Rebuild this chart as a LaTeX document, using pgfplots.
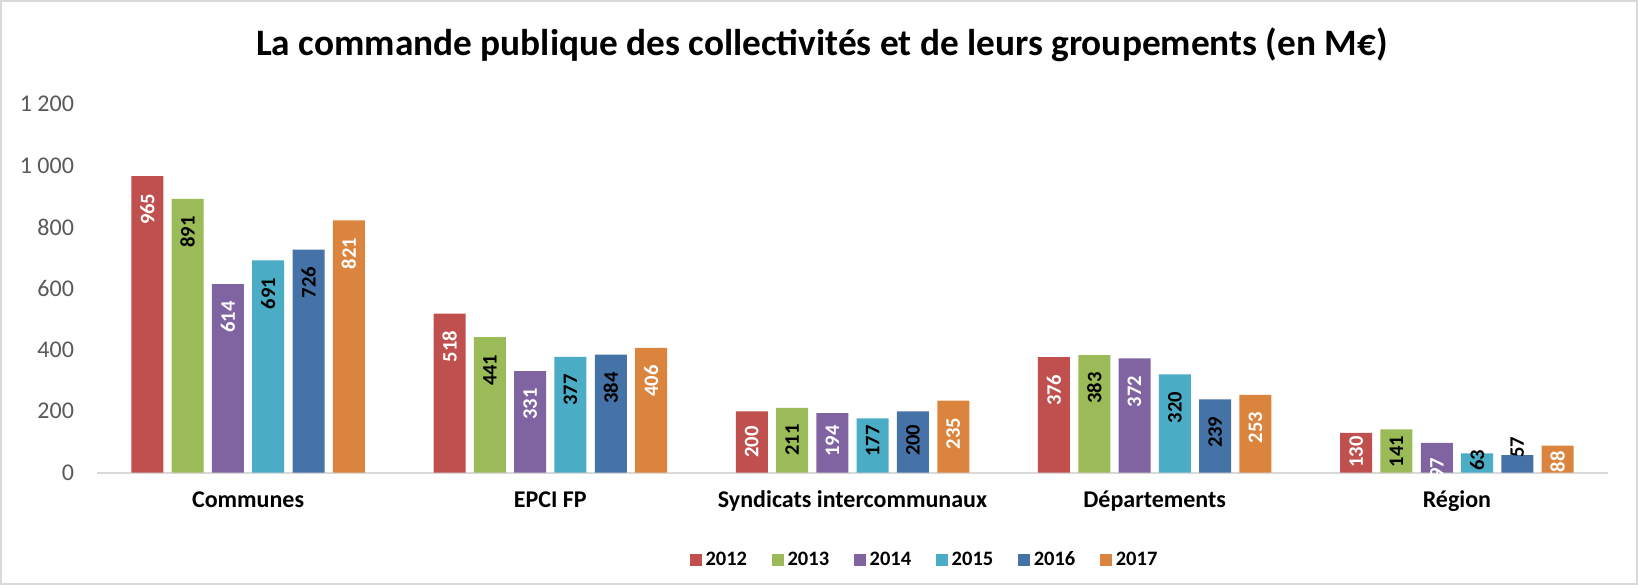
\documentclass[border=0pt]{standalone}
\usepackage{pgfplots}
\pgfplotsset{compat=1.18}
\usepackage{pgfplotstable}
\usepackage{fontspec}
\setmainfont{Carlito}
\definecolor{c2012}{HTML}{C0504D}
\definecolor{c2013}{HTML}{9BBB59}
\definecolor{c2014}{HTML}{8064A2}
\definecolor{c2015}{HTML}{4BACC6}
\definecolor{c2016}{HTML}{4572A7}
\definecolor{c2017}{HTML}{DB843D}
\definecolor{tickgray}{HTML}{595959}
\definecolor{framegray}{HTML}{D9D9D9}

\pgfplotstableread{
x y sh
0 965 -8.5
1 518 -8.5
2 200 -7.35
3 376 -8.5
4 130 -1.65
}\tA
\pgfplotstableread{
x y sh
0 891 -8.5
1 441 -8.5
2 211 -8
3 383 -8.5
4 141 -3
}\tB
\pgfplotstableread{
x y sh
0 614 -8.5
1 331 -8.5
2 194 -6
3 372 -8.5
4 97 -7.15
}\tC
\pgfplotstableread{
x y sh
0 691 -8.5
1 377 -8.5
2 177 -3.35
3 320 -8.5
4 63 1.85
}\tD
\pgfplotstableread{
x y sh
0 726 -8.5
1 384 -8.5
2 200 -6.5
3 239 -8.5
4 57 9.35
}\tE
\pgfplotstableread{
x y sh
0 821 -8.5
1 406 -8.5
2 235 -8.5
3 253 -8.35
4 88 -2.65
}\tF

\pgfplotsset{
  mybar/.style={fill=#1, draw=none,
    visualization depends on={\thisrow{sh} \as \sh},
    nodes near coords,
    every node near coord/.append style={yshift=\sh pt, rotate=90, anchor=east, inner sep=0pt,
      font=\bfseries\fontsize{10.3}{12}\selectfont}},
}

\begin{document}
\begin{tikzpicture}
\useasboundingbox (0,0) rectangle (819pt,292.5pt);
\draw[framegray, line width=1pt] (0.5pt,0.5pt) rectangle (818.5pt,292pt);
\node[anchor=base, font=\bfseries\fontsize{18.66}{22}\selectfont] at (411pt,264.5pt)
  {La commande publique des collectivités et de leurs groupements (en M€)};
\begin{axis}[
  at={(48.5pt,56.15pt)}, anchor=south west,
  scale only axis, width=755.5pt, height=184.35pt,
  ybar=4.15pt, bar width=16pt,
  xmin=-0.5, xmax=4.5, ymin=0, ymax=1200,
  xtick={0,1,2,3,4},
  xticklabels={Communes, EPCI FP, Syndicats intercommunaux, Départements, Région},
  ytick={0,200,...,1200},
  axis lines*=left,
  x axis line style={framegray, line width=1pt},
  y axis line style={draw=none},
  major tick length=0pt,
  tick style={draw=none},
  /pgf/number format/assume math mode=true,
  /pgf/number format/1000 sep={\ },
  yticklabel style={font=\fontsize{12}{14}\selectfont, text=tickgray, xshift=-8pt},
  xticklabel style={font=\bfseries\fontsize{12}{14}\selectfont, text height=8pt, text depth=2.5pt, yshift=-5.7pt},
  legend style={at={(0.5483,-0.2368)}, anchor=center, draw=none, legend columns=6,
    font=\bfseries\fontsize{10.25}{12}\selectfont,
    nodes={inner sep=2pt},
    /tikz/every even column/.append style={column sep=10.25pt}},
  legend image code/.code={\fill[#1] (0pt,-3pt) rectangle (6pt,3pt);},
]
\addplot[mybar=c2012, every node near coord/.append style={text=white}] table[x=x,y=y] {\tA};
\addplot[mybar=c2013, every node near coord/.append style={text=black}] table[x=x,y=y] {\tB};
\addplot[mybar=c2014, every node near coord/.append style={text=white}] table[x=x,y=y] {\tC};
\addplot[mybar=c2015, every node near coord/.append style={text=black}] table[x=x,y=y] {\tD};
\addplot[mybar=c2016, every node near coord/.append style={text=black}] table[x=x,y=y] {\tE};
\addplot[mybar=c2017, every node near coord/.append style={text=white}] table[x=x,y=y] {\tF};
\legend{2012,2013,2014,2015,2016,2017}
\end{axis}
\end{tikzpicture}
\end{document}
